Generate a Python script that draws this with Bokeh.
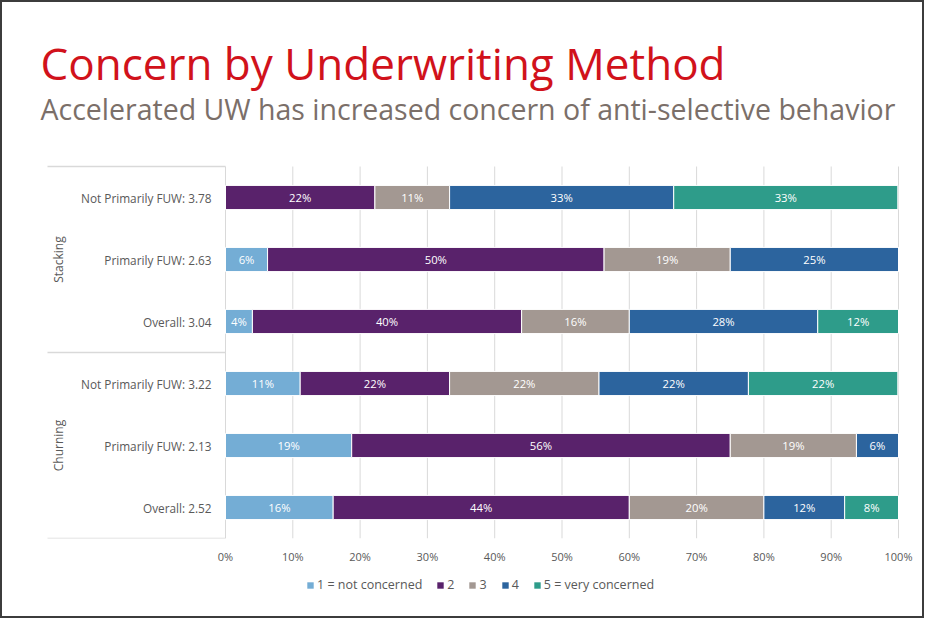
import math
from bokeh.plotting import figure
from bokeh.layouts import column
from bokeh.models import ColumnDataSource, Range1d, FixedTicker, Legend
from bokeh.core.properties import value
from bokeh.embed import file_html
from bokeh.resources import INLINE

# ---------------- data ----------------
groups = ["Stacking", "Stacking", "Stacking", "Churning", "Churning", "Churning"]
rows = ["Not Primarily FUW: 3.78", "Primarily FUW: 2.63", "Overall: 3.04",
        "Not Primarily FUW: 3.22", "Primarily FUW: 2.13", "Overall: 2.52"]
series = ["1 = not concerned", "2", "3", "4", "5 = very concerned"]
s1 = [0.0, 6.25, 4.0, 11.1, 18.75, 16.0]
s2 = [22.2, 50.0, 40.0, 22.2, 56.25, 44.0]
s3 = [11.1, 18.75, 16.0, 22.2, 18.75, 20.0]
s4 = [33.3, 25.0, 28.0, 22.2, 6.25, 12.0]
s5 = [33.3, 0.0, 12.0, 22.2, 0.0, 8.0]
x_ticks = [0, 10, 20, 30, 40, 50, 60, 70, 80, 90, 100]
title_text = "Concern by Underwriting Method"
subtitle_text = "Accelerated UW has increased concern of anti-selective behavior"

colors = ["#74ADD5", "#59226B", "#A39892", "#2C649E", "#2E9C8A"]
FONT = "Open Sans"
GRAY_TXT = "#595959"
GRID = "#D9D9D9"

# ---------------- layout helpers (picture pixels -> data) ----------------
BORDER = 2
W = 920
H1, H2 = 568, 46
PX0, PX100 = 225, 898
FRAME_L, FRAME_R, FRAME_T, FRAME_B = 20, 920, 20, 538
ROW_PX = 62.0

def dx(px):
    return (px - PX0) * 100.0 / (PX100 - PX0)

def dy(py):
    return (FRAME_B - py) / ROW_PX

n = len(rows)
ys = [n - i - 0.5 for i in range(n)]
stackers = ["s1", "s2", "s3", "s4", "s5"]
src = ColumnDataSource(dict(y=ys, s1=s1, s2=s2, s3=s3, s4=s4, s5=s5))

p = figure(width=W, height=H1, output_backend="svg", toolbar_location=None,
           x_range=Range1d(dx(FRAME_L), dx(FRAME_R)), y_range=Range1d(0, dy(FRAME_T)),
           min_border_left=FRAME_L - BORDER, min_border_right=W + BORDER - FRAME_R,
           min_border_top=FRAME_T - BORDER, min_border_bottom=H1 + BORDER - FRAME_B)
p.outline_line_color = None
p.background_fill_color = "white"
p.border_fill_color = "white"
p.xgrid.visible = False
p.ygrid.visible = False
p.yaxis.visible = False

# grid lines (from tick values)
p.segment(x0=x_ticks, y0=[0] * len(x_ticks), x1=x_ticks, y1=[n] * len(x_ticks),
          line_color=GRID, line_width=1)
# group separator lines on the label side
seps = [n, n / 2, 0]
p.segment(x0=[dx(47)] * 3, y0=seps, x1=[0] * 3, y1=seps, line_color=GRID, line_width=1.5)

# bars
p.hbar_stack(stackers, y="y", height=0.39, color=colors, line_color="white",
             line_width=1, source=src)

# segment labels
lx, ly, lt = [], [], []
for i in range(n):
    vals = [s1[i], s2[i], s3[i], s4[i], s5[i]]
    cum = 0.0
    for v in vals:
        if v > 0:
            lx.append(cum + v / 2)
            ly.append(ys[i])
            lt.append(f"{round(v)}%")
        cum += v
p.text(x=lx, y=ly, text=lt, text_color="white", text_font=value(FONT),
       text_font_size="11.3px", text_align="center", text_baseline="middle")

# category labels
p.text(x=[dx(211)] * n, y=ys, text=rows, text_color=GRAY_TXT, text_font=value(FONT),
       text_font_size="11.8px", text_align="right", text_baseline="middle")
# group labels
grp_names = ["Stacking", "Churning"]
grp_y = [n * 3 / 4, n / 4]
p.text(x=[dx(58)] * 2, y=grp_y, text=grp_names, angle=math.pi / 2, text_color=GRAY_TXT,
       text_font=value(FONT), text_font_size="12px", text_align="center", text_baseline="middle")

# title & subtitle
p.text(x=[dx(40)], y=[dy(62)], text=[title_text], text_color="#D1121B", text_font=value(FONT),
       text_font_size="44px", text_align="left", text_baseline="alphabetic")
p.text(x=[dx(40)], y=[dy(108)], text=[subtitle_text], text_color="#7B6F69", text_font=value(FONT),
       text_font_size="28.5px", text_align="left", text_baseline="alphabetic")

# x axis
ax = p.xaxis[0]
ax.ticker = FixedTicker(ticks=x_ticks)
ax.major_label_overrides = {t: f"{t}%" for t in x_ticks}
ax.axis_line_color = None
ax.major_tick_line_color = None
ax.minor_tick_line_color = None
ax.major_tick_out = 0
ax.major_tick_in = 0
ax.major_label_standoff = 10
ax.major_label_text_font = FONT
ax.major_label_text_font_size = "11px"
ax.major_label_text_color = GRAY_TXT

# legend strip (second figure; its bars lie outside its view, only the legend shows)
p2 = figure(width=W, height=H2, output_backend="svg", toolbar_location=None,
            x_range=Range1d(0, 100), y_range=Range1d(n + 1, n + 2),
            x_axis_location=None, y_axis_location=None,
            min_border_left=0, min_border_right=0, min_border_top=0, min_border_bottom=0)
p2.outline_line_color = None
p2.xgrid.visible = False
p2.ygrid.visible = False
leg_r = p2.hbar_stack(stackers, y="y", height=0.39, color=colors, line_color=None, source=src)
legend = Legend(items=[(s, [r]) for s, r in zip(series, leg_r)], orientation="horizontal",
                location=(288 - BORDER, BORDER + H1 + H2 - 593), label_text_font=FONT,
                label_text_font_size="12.5px", label_text_color=GRAY_TXT,
                glyph_width=8, glyph_height=8, label_standoff=3, label_width=1,
                spacing=14, padding=0, margin=0, border_line_color=None,
                background_fill_alpha=0, label_height=16)
p2.add_layout(legend, "center")

layout = column(p, p2, spacing=0)
layout.styles = {"border": f"{BORDER}px solid #3c3c3c"}

open("out.html", "w").write(file_html(layout, INLINE))
